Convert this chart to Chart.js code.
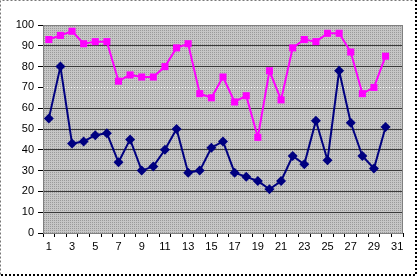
<!DOCTYPE html>
<html>
<head>
<meta charset="utf-8">
<script src="https://cdn.jsdelivr.net/npm/chart.js@4.4.0/dist/chart.umd.min.js"></script>
<style>
  html, body { margin: 0; padding: 0; background: #fff; }
  #wrap { width: 418px; height: 276px; position: relative; }
</style>
</head>
<body>
<div id="wrap"><canvas id="mycanvas" width="418" height="276"></canvas></div>
<script>
var days = [];
for (var d = 1; d <= 31; d++) days.push(String(d));

var pinkSeries = [93, 95, 97, 91, 92, 92, 73, 76, 75, 75, 80, 89, 91, 67, 65,
                  75, 63, 66, 46, 78, 64, 89, 93, 92, 96, 96, 87, 67, 70, 85];
var navySeries = [55, 80, 43, 44, 47, 48, 34, 45, 30, 32, 40, 50, 29, 30, 41,
                  44, 29, 27, 25, 21, 25, 37, 33, 54, 35, 78, 53, 37, 31, 51];

var yTicks = [0, 10, 20, 30, 40, 50, 60, 70, 80, 90, 100];

// dotted grey fill like the old spreadsheet plot area
function makePattern(ctx) {
  var p = document.createElement('canvas');
  p.width = 2; p.height = 2;
  var c = p.getContext('2d');
  c.fillStyle = '#c6c6c6';
  c.fillRect(0, 0, 2, 2);
  c.fillStyle = '#9a9a9a';
  c.fillRect(0, 0, 1, 1);
  return ctx.createPattern(p, 'repeat');
}

var frame = {
  id: 'frame',
  beforeDraw: function(chart) {
    var ctx = chart.ctx, a = chart.chartArea;
    ctx.save();
    ctx.fillStyle = '#fff';
    ctx.fillRect(0, 0, chart.width, chart.height);
    ctx.fillStyle = makePattern(ctx);
    ctx.fillRect(a.left, a.top, a.right - a.left, a.bottom - a.top);
    ctx.restore();
  },
  afterDraw: function(chart) {
    var ctx = chart.ctx, a = chart.chartArea;
    ctx.save();
    ctx.strokeStyle = '#808080';
    ctx.lineWidth = 1;
    ctx.strokeRect(a.left + 0.5, a.top + 0.5, a.right - a.left - 1, a.bottom - a.top);
    // outer dotted border
    ctx.setLineDash([2, 2]);
    ctx.strokeStyle = '#777';
    ctx.beginPath();
    ctx.moveTo(0.5, 274.5); ctx.lineTo(0.5, 0.5); ctx.lineTo(416.5, 0.5);
    ctx.stroke();
    ctx.strokeStyle = '#000';
    ctx.lineWidth = 2;
    ctx.beginPath();
    ctx.moveTo(416, 0); ctx.lineTo(416, 275); ctx.lineTo(0, 275);
    ctx.stroke();
    ctx.restore();
  }
};

var ctx = document.getElementById('mycanvas');

var chart = new Chart(ctx, {
  type: 'line',
  data: {
    labels: days,
    datasets: [
      {
        label: 'pink',
        data: pinkSeries,
        borderColor: '#ff00ff',
        backgroundColor: '#ff00ff',
        borderWidth: 2,
        pointStyle: 'rect',
        pointRadius: 5,
        pointBorderWidth: 0,
        lineTension: 0,
        fill: false
      },
      {
        label: 'navy',
        data: navySeries,
        borderColor: '#000080',
        backgroundColor: '#000080',
        borderWidth: 2,
        pointStyle: 'rectRot',
        pointRadius: 5,
        pointBorderWidth: 0,
        lineTension: 0,
        fill: false
      }
    ]
  },
  options: {
    responsive: false,
    animation: false,
    layout: { padding: { left: 0, right: 15, top: 25, bottom: 0 } },
    plugins: {
      legend: { display: false },
      tooltip: { enabled: false }
    },
    scales: {
      x: {
        type: 'category',
        offset: true,
        afterFit: function(s) { s.height = 43; },
        grid: {
          offset: true,
          drawOnChartArea: false,
          drawTicks: true,
          tickLength: 4,
          color: '#000'
        },
        border: { color: '#000', width: 1 },
        ticks: {
          autoSkip: false,
          maxRotation: 0,
          padding: 3,
          color: '#000',
          font: { family: 'Liberation Sans', size: 11 },
          callback: function(v, i) { return i % 2 === 0 ? days[i] : ''; }
        }
      },
      y: {
        min: 0,
        max: 100,
        afterFit: function(s) { s.width = 43; },
        afterBuildTicks: function(s) {
          s.ticks = yTicks.map(function(v) { return { value: v }; });
        },
        grid: {
          color: function(c) {
            if (c.tick && c.tick.value === 70) return '#f4f4f4';
            return '#3a3a3a';
          },
          tickColor: '#000',
          tickLength: 5
        },
        border: {
          color: '#000',
          width: 1,
          dash: function(c) {
            return (c.tick && c.tick.value === 70) ? [1, 2] : [];
          }
        },
        ticks: {
          padding: 4,
          color: '#000',
          font: { family: 'Liberation Sans', size: 11 }
        }
      }
    }
  },
  plugins: [frame]
});
</script>
</body>
</html>
